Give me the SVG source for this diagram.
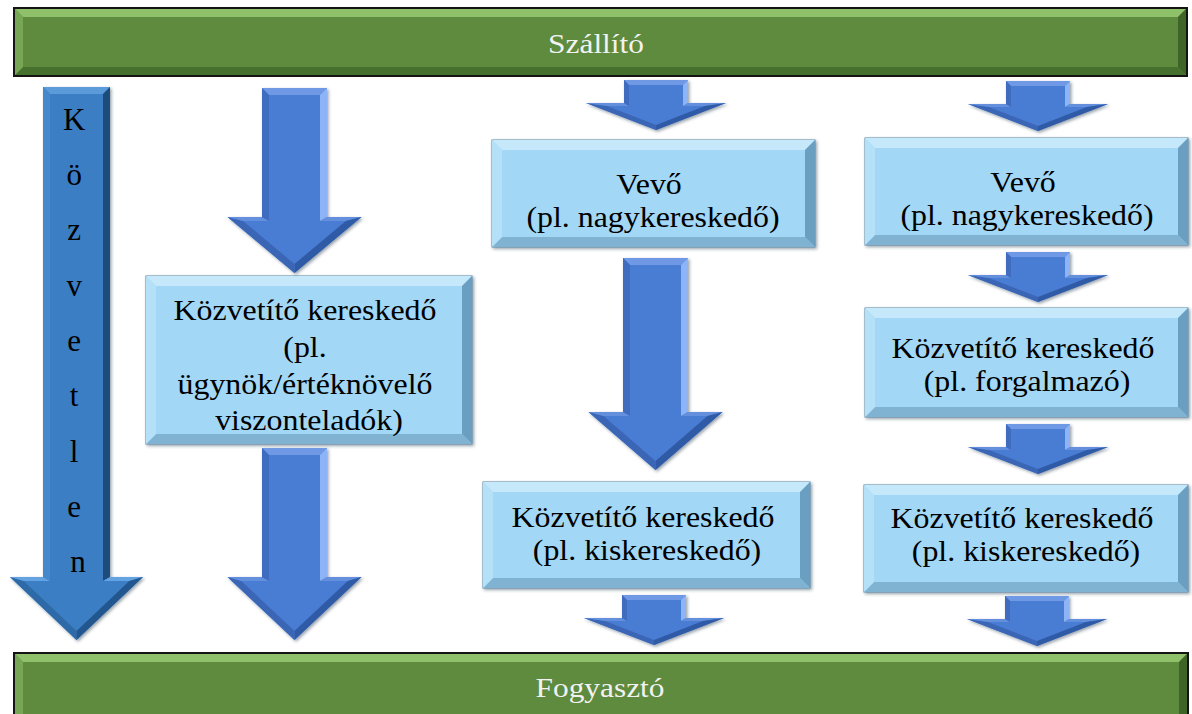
<svg xmlns="http://www.w3.org/2000/svg" xmlns:xlink="http://www.w3.org/1999/xlink" width="1192" height="714" viewBox="0 0 1192 714">
  <style>
    .bar-base { fill: #5e8b3e; stroke: #141414; stroke-width: 2; }
    .bar-top { fill: #8fc06a; }
    .bar-left { fill: #77a754; }
    .bar-right { fill: #3e6428; }
    .bar-bottom { fill: #46702e; }
    .bar-text { font-family: "Liberation Serif", "Times New Roman", serif; font-size: 28px; fill: #f2f2f2; }

    .box-base { fill: #a3d7f6; stroke: #5b88a6; stroke-width: 1; }
    .box-top { fill: #c5e9fb; }
    .box-left { fill: #b4e0f8; }
    .box-right { fill: #6b9fc1; }
    .box-bottom { fill: #80b2d2; }
    .box-text { font-family: "Liberation Serif", "Times New Roman", serif; font-size: 29px; fill: #000; }

    .ar-base { fill: #4a7bd3; }
    .ar-top { fill: #6f99e5; }
    .ar-rs { fill: #8cb4f6; }
    .ar-wing { fill: #648fdd; }
    .ar-rslope { fill: #2f5aa6; }
    .ar-lslope { fill: #3b66b6; }
    .ar-ls { fill: #3f6cc0; }

    .big-base { fill: #3a7ec4; }
    .big-top { fill: #5c9bd9; }
    .big-rs { fill: #1f4c7c; }
    .big-wing { fill: #64a3e2; }
    .big-rslope { fill: #24578e; }
    .big-lslope { fill: #2f6aa8; }
    .big-ls { fill: #4588cb; }
    .big-text { font-family: "Liberation Serif", "Times New Roman", serif; font-size: 31px; fill: #000; }
  </style>

  <defs>
    <filter id="soft" x="-10%" y="-10%" width="120%" height="120%">
      <feDropShadow dx="1.5" dy="1.5" stdDeviation="1.5" flood-color="#1a2a40" flood-opacity="0.45"/>
    </filter>
    <!-- short bevelled down-arrow, origin at top centre of the shaft -->
    <g id="sArrow">
      <polygon class="ar-base" points="-32,0 32,0 32,23 70,23 0,50 -70,23 -32,23"/>
      <polygon class="ar-top" points="-32,0 32,0 27,5 -27,5"/>
      <polygon class="ar-rs" points="32,0 32,23 27,26 27,5"/>
      <polygon class="ar-wing" points="32,23 70,23 49,26 27,26"/>
      <polygon class="ar-rslope" points="70,23 0,50 0,45 49,26"/>
      <polygon class="ar-lslope" points="0,50 -70,23 -49,26 0,45"/>
      <polygon class="ar-wing" points="-70,23 -32,23 -27,26 -49,26"/>
      <polygon class="ar-ls" points="-32,23 -32,0 -27,5 -27,26"/>
    </g>
  </defs>

  <rect width="1192" height="714" fill="#ffffff"/>

  <!-- supplier bar -->
  <g id="szallito">
    <rect class="bar-base" x="14" y="8" width="1173" height="68"/>
    <polygon class="bar-top" points="15,9 1186,9 1178,17 23,17"/>
    <polygon class="bar-bottom" points="15,75 1186,75 1178,67 23,67"/>
    <polygon class="bar-left" points="15,9 23,17 23,67 15,75"/>
    <polygon class="bar-right" points="1186,9 1178,17 1178,67 1186,75"/>
    <text class="bar-text" transform="translate(596 0) scale(1.12 1)" x="0" y="53" text-anchor="middle">Szállító</text>
  </g>

  <!-- consumer bar -->
  <g id="fogyaszto">
    <rect class="bar-base" x="14" y="653" width="1174" height="71"/>
    <polygon class="bar-top" points="15,654 1187,654 1179,662 23,662"/>
    <polygon class="bar-left" points="15,654 23,662 23,715 15,723"/>
    <polygon class="bar-right" points="1187,654 1179,662 1179,715 1187,723"/>
    <text class="bar-text" transform="translate(600 0) scale(1.12 1)" x="0" y="697" text-anchor="middle">Fogyasztó</text>
  </g>

  <!-- direct channel: tall arrow with vertical lettering -->
  <g id="kozvetlen">
    <g filter="url(#soft)">
      <polygon class="big-base" points="43,87 110,87 110,577 143,577 76.5,640 10,577 43,577"/>
      <polygon class="big-top" points="43,87 110,87 103,94 50,94"/>
      <polygon class="big-rs" points="110,87 110,577 103,581 103,94"/>
      <polygon class="big-wing" points="110,577 143,577 129.3,581 103,581"/>
      <polygon class="big-rslope" points="143,577 76.5,640 76.5,631 129.3,581"/>
      <polygon class="big-lslope" points="76.5,640 10,577 23.7,581 76.5,631"/>
      <polygon class="big-wing" points="10,577 43,577 50,581 23.7,581"/>
      <polygon class="big-ls" points="43,577 43,87 50,94 50,581"/>
    </g>
    <text class="big-text" text-anchor="middle">
      <tspan x="78" y="130">K</tspan>
      <tspan x="78" y="185">ö</tspan>
      <tspan x="78" y="240">z</tspan>
      <tspan x="78" y="296">v</tspan>
      <tspan x="78" y="351">e</tspan>
      <tspan x="78" y="406">t</tspan>
      <tspan x="78" y="462">l</tspan>
      <tspan x="78" y="517">e</tspan>
      <tspan x="78" y="572">n</tspan>
    </text>
  </g>

  <!-- nodes -->
  <g id="kozvetito-ugynok">
    <g filter="url(#soft)">
      <rect class="box-base" x="146" y="276" width="326" height="168"/>
      <polygon class="box-top" points="146,276 472,276 462,286 156,286"/>
      <polygon class="box-bottom" points="146,444 472,444 462,434 156,434"/>
      <polygon class="box-left" points="146,276 156,286 156,434 146,444"/>
      <polygon class="box-right" points="472,276 462,286 462,434 472,444"/>
    </g>
    <text class="box-text" transform="translate(309 0) scale(1.1 1)" text-anchor="middle">
      <tspan x="0" y="320">Közvetítő kereskedő</tspan>
      <tspan x="0" y="357">(pl.</tspan>
      <tspan x="0" y="394">ügynök/értéknövelő</tspan>
      <tspan x="0" y="430">viszonteladók)</tspan>
    </text>
  </g>

  <g id="vevo-1">
    <g filter="url(#soft)">
      <rect class="box-base" x="492" y="140" width="323" height="107"/>
      <polygon class="box-top" points="492,140 815,140 805,150 502,150"/>
      <polygon class="box-bottom" points="492,247 815,247 805,237 502,237"/>
      <polygon class="box-left" points="492,140 502,150 502,237 492,247"/>
      <polygon class="box-right" points="815,140 805,150 805,237 815,247"/>
    </g>
    <text class="box-text" transform="translate(653 0) scale(1.1 1)" text-anchor="middle">
      <tspan x="0" y="194">Vevő</tspan>
      <tspan x="0" y="227">(pl. nagykereskedő)</tspan>
    </text>
  </g>

  <g id="kiskereskedo-1">
    <g filter="url(#soft)">
      <rect class="box-base" x="483" y="482" width="327" height="106"/>
      <polygon class="box-top" points="483,482 810,482 800,492 493,492"/>
      <polygon class="box-bottom" points="483,588 810,588 800,578 493,578"/>
      <polygon class="box-left" points="483,482 493,492 493,578 483,588"/>
      <polygon class="box-right" points="810,482 800,492 800,578 810,588"/>
    </g>
    <text class="box-text" transform="translate(647 0) scale(1.1 1)" text-anchor="middle">
      <tspan x="0" y="527">Közvetítő kereskedő</tspan>
      <tspan x="0" y="560">(pl. kiskereskedő)</tspan>
    </text>
  </g>

  <g id="vevo-2">
    <g filter="url(#soft)">
      <rect class="box-base" x="865" y="138" width="323" height="107"/>
      <polygon class="box-top" points="865,138 1188,138 1178,148 875,148"/>
      <polygon class="box-bottom" points="865,245 1188,245 1178,235 875,235"/>
      <polygon class="box-left" points="865,138 875,148 875,235 865,245"/>
      <polygon class="box-right" points="1188,138 1178,148 1178,235 1188,245"/>
    </g>
    <text class="box-text" transform="translate(1027 0) scale(1.1 1)" text-anchor="middle">
      <tspan x="0" y="192">Vevő</tspan>
      <tspan x="0" y="225">(pl. nagykereskedő)</tspan>
    </text>
  </g>

  <g id="forgalmazo">
    <g filter="url(#soft)">
      <rect class="box-base" x="865" y="308" width="323" height="109"/>
      <polygon class="box-top" points="865,308 1188,308 1178,318 875,318"/>
      <polygon class="box-bottom" points="865,417 1188,417 1178,407 875,407"/>
      <polygon class="box-left" points="865,308 875,318 875,407 865,417"/>
      <polygon class="box-right" points="1188,308 1178,318 1178,407 1188,417"/>
    </g>
    <text class="box-text" transform="translate(1027 0) scale(1.1 1)" text-anchor="middle">
      <tspan x="0" y="358">Közvetítő kereskedő</tspan>
      <tspan x="0" y="391">(pl. forgalmazó)</tspan>
    </text>
  </g>

  <g id="kiskereskedo-2">
    <g filter="url(#soft)">
      <rect class="box-base" x="864" y="485" width="324" height="107"/>
      <polygon class="box-top" points="864,485 1188,485 1178,495 874,495"/>
      <polygon class="box-bottom" points="864,592 1188,592 1178,582 874,582"/>
      <polygon class="box-left" points="864,485 874,495 874,582 864,592"/>
      <polygon class="box-right" points="1188,485 1178,495 1178,582 1188,592"/>
    </g>
    <text class="box-text" transform="translate(1026 0) scale(1.1 1)" text-anchor="middle">
      <tspan x="0" y="528">Közvetítő kereskedő</tspan>
      <tspan x="0" y="561">(pl. kiskereskedő)</tspan>
    </text>
  </g>

  <!-- connectors: bevelled block arrows -->
  <g id="connectors" filter="url(#soft)">
    <g id="arrow-c2-top">
      <polygon class="ar-base" points="262,88 327,88 327,217 361.5,217 294.5,273 227.5,217 262,217"/>
      <polygon class="ar-top" points="262,88 327,88 320,95 269,95"/>
      <polygon class="ar-rs" points="327,88 327,217 320,221 320,95"/>
      <polygon class="ar-wing" points="327,217 361.5,217 345.9,221 320,221"/>
      <polygon class="ar-rslope" points="361.5,217 294.5,273 294.5,264 345.9,221"/>
      <polygon class="ar-lslope" points="294.5,273 227.5,217 243.1,221 294.5,264"/>
      <polygon class="ar-wing" points="227.5,217 262,217 269,221 243.1,221"/>
      <polygon class="ar-ls" points="262,217 262,88 269,95 269,221"/>
    </g>
    <g id="arrow-c2-bottom">
      <polygon class="ar-base" points="262,448 327,448 327,577 361.5,577 294.5,640 227.5,577 262,577"/>
      <polygon class="ar-top" points="262,448 327,448 320,455 269,455"/>
      <polygon class="ar-rs" points="327,448 327,577 320,581 320,455"/>
      <polygon class="ar-wing" points="327,577 361.5,577 347.7,581 320,581"/>
      <polygon class="ar-rslope" points="361.5,577 294.5,640 294.5,631 347.7,581"/>
      <polygon class="ar-lslope" points="294.5,640 227.5,577 241.3,581 294.5,631"/>
      <polygon class="ar-wing" points="227.5,577 262,577 269,581 241.3,581"/>
      <polygon class="ar-ls" points="262,577 262,448 269,455 269,581"/>
    </g>
    <g id="arrow-c3-mid">
      <polygon class="ar-base" points="623,258 688,258 688,412 722.5,412 655.5,470 588.5,412 623,412"/>
      <polygon class="ar-top" points="623,258 688,258 681,265 630,265"/>
      <polygon class="ar-rs" points="688,258 688,412 681,416 681,265"/>
      <polygon class="ar-wing" points="688,412 722.5,412 707.5,416 681,416"/>
      <polygon class="ar-rslope" points="722.5,412 655.5,470 655.5,461 707.5,416"/>
      <polygon class="ar-lslope" points="655.5,470 588.5,412 603.5,416 655.5,461"/>
      <polygon class="ar-wing" points="588.5,412 623,412 630,416 603.5,416"/>
      <polygon class="ar-ls" points="623,412 623,258 630,265 630,416"/>
    </g>
    <use id="arrow-c3-top" href="#sArrow" transform="translate(656 80)"/>
    <use id="arrow-c3-bottom" href="#sArrow" transform="translate(654 595)"/>
    <use id="arrow-c4-1" href="#sArrow" transform="translate(1038 81)"/>
    <use id="arrow-c4-2" href="#sArrow" transform="translate(1038 252)"/>
    <use id="arrow-c4-3" href="#sArrow" transform="translate(1038 424)"/>
    <use id="arrow-c4-4" href="#sArrow" transform="translate(1037 596)"/>
  </g>
</svg>
